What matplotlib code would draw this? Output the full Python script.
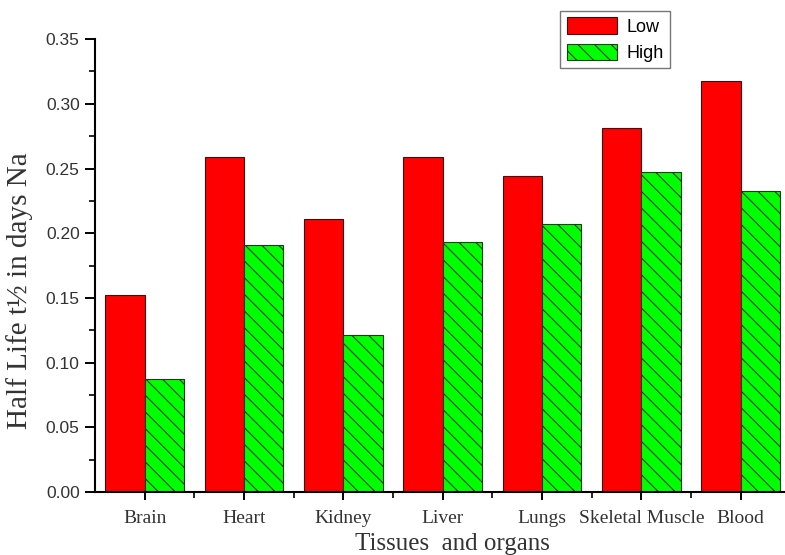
import numpy as np
import matplotlib
matplotlib.use("Agg")
import matplotlib.pyplot as plt
from matplotlib.ticker import MultipleLocator, FormatStrFormatter

# data
tissues = ["Brain", "Heart", "Kidney", "Liver", "Lungs", "Skeletal Muscle", "Blood"]
low = [0.152, 0.259, 0.211, 0.259, 0.244, 0.281, 0.318]
high = [0.087, 0.191, 0.121, 0.193, 0.207, 0.247, 0.233]

plt.rcParams['hatch.linewidth'] = 0.8
plt.rcParams['hatch.color'] = '#1a1a1a'

fig = plt.figure(figsize=(7.85, 5.55), dpi=100)
ax = fig.add_axes([0.121, 0.1135, 0.882, 0.816])

x = np.arange(len(tissues))
w = 0.395
ax.bar(x - w/2, low, w, color='#ff0000', edgecolor='#3a1010', linewidth=0.8, label='Low')
ax.bar(x + w/2, high, w, color='#00ff00', edgecolor='#1a3a1a', linewidth=0.8,
       hatch='\\\\', label='High')

ax.set_xlim(-0.5, 6.47)
ax.set_ylim(0, 0.35)
ax.yaxis.set_major_locator(MultipleLocator(0.05))
ax.yaxis.set_minor_locator(MultipleLocator(0.025))
ax.yaxis.set_major_formatter(FormatStrFormatter('%.2f'))
ax.set_xticks(x)
ax.set_xticks(x[:-1] + 0.5, minor=True)
ax.set_xticklabels(tissues, family='Liberation Serif', fontsize=14, color='#333333')
ax.tick_params(axis='y', which='major', length=7, width=1.4, labelsize=12.5,
               labelcolor='#333333', pad=4)
ax.tick_params(axis='y', which='minor', length=4, width=1.2)
ax.tick_params(axis='x', which='major', length=6, width=1.4, pad=7)
ax.tick_params(axis='x', which='minor', length=4, width=1.2)
for lab in ax.get_yticklabels():
    lab.set_family('Liberation Sans')

ax.spines['top'].set_visible(False)
ax.spines['right'].set_visible(False)
ax.spines['left'].set_linewidth(1.5)
ax.spines['bottom'].set_linewidth(1.5)

ax.set_ylabel("Half Life t½ in days Na", family='Liberation Serif', fontsize=21,
              color='#333333')
ax.yaxis.set_label_coords(-0.09, 0.444)
ax.set_xlabel("Tissues  and organs", family='Liberation Serif', fontsize=18,
              color='#333333')
ax.xaxis.set_label_coords(0.516, -0.09)

leg = ax.legend(loc='upper left', bbox_to_anchor=(0.672, 1.062), frameon=True,
                fancybox=False, edgecolor='#555555', borderaxespad=0,
                handlelength=2.8, handleheight=1.0, borderpad=0.35,
                labelspacing=0.45, handletextpad=0.5,
                prop={'family': 'Liberation Sans', 'size': 13})
leg.get_frame().set_linewidth(1.0)

fig.savefig("out.png", dpi=100)
